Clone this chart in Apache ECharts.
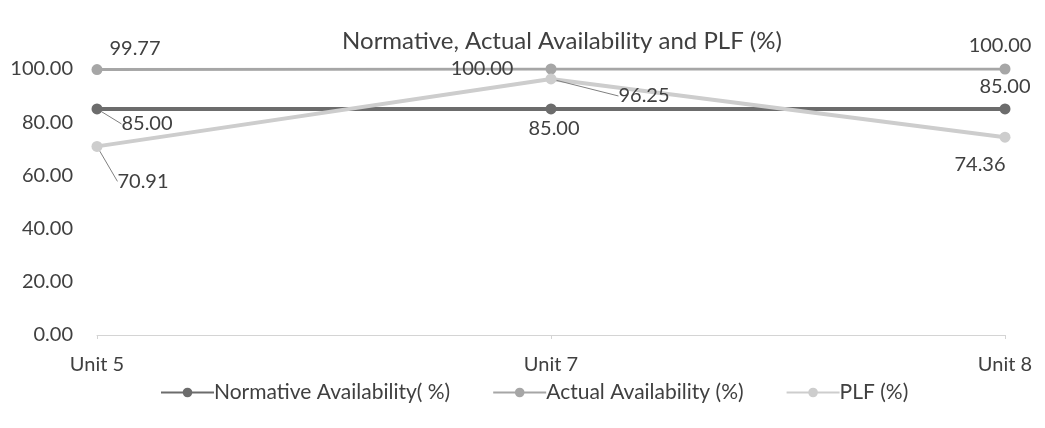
<!DOCTYPE html>
<html>
<head>
<meta charset="utf-8">
<script src="https://cdn.jsdelivr.net/npm/echarts@6/dist/echarts.min.js"></script>
<style>html,body{margin:0;padding:0;background:#fff}#c{width:1045px;height:428px}</style>
</head>
<body>
<div id="c"></div>
<script>
const categories = ['Unit 5', 'Unit 7', 'Unit 8'];
const normative = [85.00, 85.00, 85.00];
const actual = [99.77, 100.00, 100.00];
const plf = [70.91, 96.25, 74.36];
const yTicks = [0, 20, 40, 60, 80, 100];
const seriesNames = ['Normative Availability( %)', 'Actual Availability (%)', 'PLF (%)'];

// label placement (offset of label centre from its point) and leader-line flags
const labelOffsets = [
  [[50, 15], [3, 20], [0, -22]],
  [[38, -21], [-69, 0], [-5, -23]],
  [[46, 35], [93, 17], [-25, 27]]
];
const leaders = [
  [true, false, false],
  [false, false, false],
  [true, true, false]
];
const colors = ['#6c6c6c', '#a6a6a6', '#cdcdcd'];
const widths = [4, 3, 4];
const FONT = 'Lato';
const TXT = '#404040';

const chart = echarts.init(document.getElementById('c'));
const values = [normative, actual, plf];

function mkSeries(i) {
  return {
    name: seriesNames[i],
    type: 'line',
    data: values[i].map((v, j) => ({
      value: v,
      labelLine: { show: leaders[i][j] }
    })),
    symbol: 'circle',
    symbolSize: 11,
    lineStyle: { color: colors[i], width: widths[i] },
    itemStyle: { color: colors[i] },
    z: 2 + i,
    label: {
      show: true,
      position: 'inside',
      formatter: p => p.value.toFixed(2),
      color: TXT,
      fontFamily: FONT,
      fontSize: 20
    },
    labelLine: { show: true, lineStyle: { color: '#808080', width: 1 } },
    labelLayout: function (params) {
      const o = labelOffsets[i][params.dataIndex];
      return { dx: o[0], dy: o[1] };
    },
    emphasis: { disabled: true },
    animation: false
  };
}

chart.setOption({
  backgroundColor: '#ffffff',
  animation: false,
  title: {
    text: 'Normative, Actual Availability and PLF (%)',
    left: 557,
    textAlign: 'center',
    top: 24,
    textStyle: { fontFamily: FONT, fontSize: 24, fontWeight: 'normal', color: TXT }
  },
  legend: {
    left: 155,
    top: 377,
    itemWidth: 53,
    itemHeight: 12,
    itemGap: 42,
    data: seriesNames,
    textStyle: { fontFamily: FONT, fontSize: 21, color: TXT, padding: [0, 0, 0, -5] }
  },
  grid: { left: 97, right: 40, top: 69, bottom: 93, containLabel: false },
  xAxis: {
    type: 'category',
    data: categories,
    boundaryGap: false,
    axisLine: { lineStyle: { color: '#d4d4d4', width: 1 } },
    axisTick: { show: true, length: 4, lineStyle: { color: '#d4d4d4' } },
    axisLabel: { fontFamily: FONT, fontSize: 20, color: TXT, margin: 20 }
  },
  yAxis: {
    type: 'value',
    min: yTicks[0],
    max: yTicks[yTicks.length - 1],
    interval: yTicks[1] - yTicks[0],
    axisLine: { show: false },
    axisTick: { show: false },
    splitLine: { show: false },
    axisLabel: { fontFamily: FONT, fontSize: 20, color: TXT, margin: 24, formatter: v => v.toFixed(2) }
  },
  series: [mkSeries(0), mkSeries(1), mkSeries(2)]
});
</script>
</body>
</html>
